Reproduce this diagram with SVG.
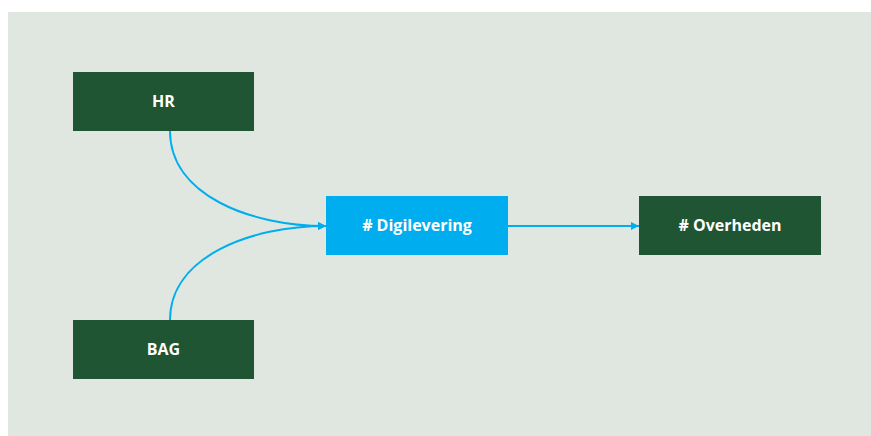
<svg xmlns="http://www.w3.org/2000/svg" width="871" height="436" viewBox="0 0 871 436">
<defs>
<style>
.dk{fill:#1f5532}
.bl{fill:#00aeef}
.lbl{font-family:"Open Sans","Liberation Sans",sans-serif;font-weight:bold;font-size:16px;fill:#ffffff;text-anchor:middle;dominant-baseline:central}
.c{fill:none;stroke:#00aeef;stroke-width:2}
</style>
<marker id="ah" markerWidth="10" markerHeight="10" refX="8" refY="4" orient="auto" markerUnits="userSpaceOnUse">
<path d="M0,0 L8,4 L0,8 Z" fill="#00aeef"/>
</marker>
</defs>
<rect x="8" y="12" width="863" height="424" fill="#e0e7e1"/>
<g id="connectors">
<path class="c" d="M170,131 C170,195 250,226 326,226" marker-end="url(#ah)"/>
<path class="c" d="M170,320 C170,257 250,226 326,226" marker-end="url(#ah)"/>
<path class="c" d="M508,226 L639,226" marker-end="url(#ah)"/>
</g>
<g id="hr"><rect class="dk" x="73" y="72" width="181" height="59"/><text class="lbl" x="163.5" y="101">HR</text></g>
<g id="bag"><rect class="dk" x="73" y="320" width="181" height="59"/><text class="lbl" x="163.5" y="349">BAG</text></g>
<g id="digilevering"><rect class="bl" x="326" y="196" width="182" height="59"/><text class="lbl" x="417" y="225"># Digilevering</text></g>
<g id="overheden"><rect class="dk" x="639" y="196" width="182" height="59"/><text class="lbl" x="730" y="225"># Overheden</text></g>
</svg>
